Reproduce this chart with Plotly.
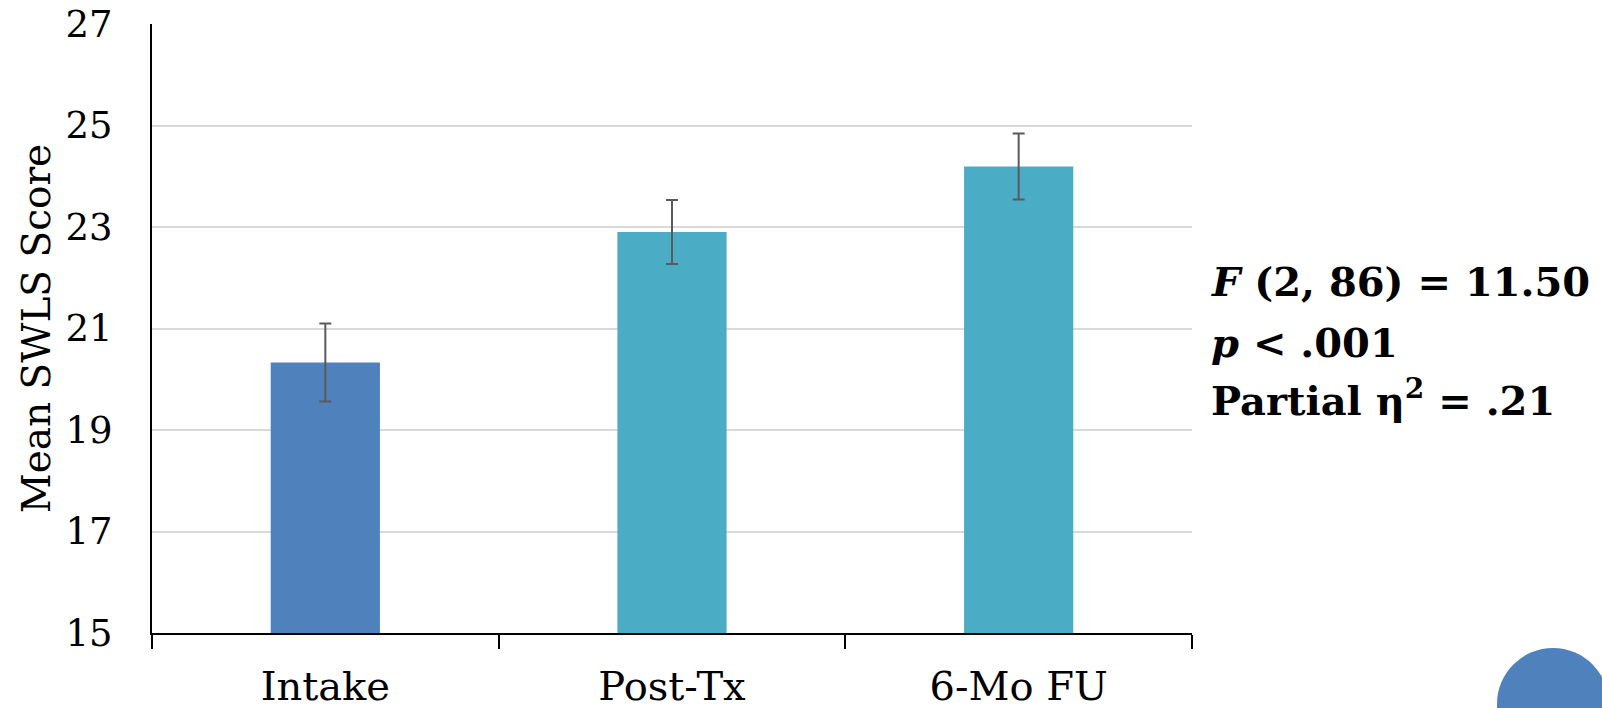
import plotly.graph_objects as go

categories = ["Intake", "Post-Tx", "6-Mo FU"]
means = [20.33, 22.90, 24.19]
errors = [0.77, 0.63, 0.65]
bar_colors = ["#4F81BD", "#4BACC6", "#4BACC6"]
y_ticks = [15, 17, 19, 21, 23, 25, 27]
stats_lines = [
    "<b><i>F</i> (2, 86) = 11.50</b>",
    "<b><i>p</i> &lt; .001</b>",
    "<b>Partial η<sup>2</sup> = .21</b>",
]

FONT = "DejaVu Serif"
W, H = 1602, 708
L, R, T, B = 152, 410, 24, 75
pw = W - L - R
ph = H - T - B

fig = go.Figure()
fig.add_trace(go.Bar(
    x=categories, y=means, width=0.315,
    marker=dict(color=bar_colors, line=dict(width=0)),
    error_y=dict(type="data", array=errors, visible=True,
                 color="#5a5a5a", thickness=2, width=6),
    showlegend=False,
))

fig.update_layout(
    width=W, height=H,
    margin=dict(l=L, r=R, t=T, b=B, autoexpand=False),
    paper_bgcolor="white", plot_bgcolor="white",
    font=dict(family=FONT, color="black"),
)
fig.update_xaxes(
    type="category", tickson="boundaries", ticks="outside", ticklen=14,
    tickwidth=1.5, tickcolor="black", showline=True, linecolor="black",
    linewidth=1.5, showgrid=False, tickfont=dict(size=40, family=FONT),
    ticklabelstandoff=17, automargin=False,
)
fig.update_yaxes(
    range=[15, 27], tickvals=y_ticks, ticktext=[str(v) for v in y_ticks],
    showline=True, linecolor="black", linewidth=2, ticks="",
    showgrid=True, gridcolor="#d9d9d9", gridwidth=1.5, zeroline=False,
    tickfont=dict(size=37, family=FONT), ticklabelstandoff=30,
    title=dict(text="Mean SWLS Score", font=dict(size=39, family=FONT), standoff=3),
    automargin=False,
)

line_px = [281, 342, 398]
for txt, py in zip(stats_lines, line_px):
    fig.add_annotation(
        xref="paper", yref="paper",
        x=(1209 - L) / pw, y=(H - B - py) / ph,
        text=txt, showarrow=False, xanchor="left", yanchor="middle",
        font=dict(size=40, family=FONT, color="black"),
    )

cx, cy, r = 1553, 704, 56
fig.add_shape(
    type="circle", xref="paper", yref="paper",
    xsizemode="pixel", ysizemode="pixel",
    xanchor=(cx - L) / pw, yanchor=(H - B - cy) / ph,
    x0=-r, x1=r, y0=-r, y1=r,
    fillcolor="#4F81BD", line=dict(width=0), layer="above",
)

fig.write_html(
    "out.html",
    config={"displayModeBar": False},
    post_script="document.body.style.margin='0px';document.body.style.overflow='hidden';",
)
